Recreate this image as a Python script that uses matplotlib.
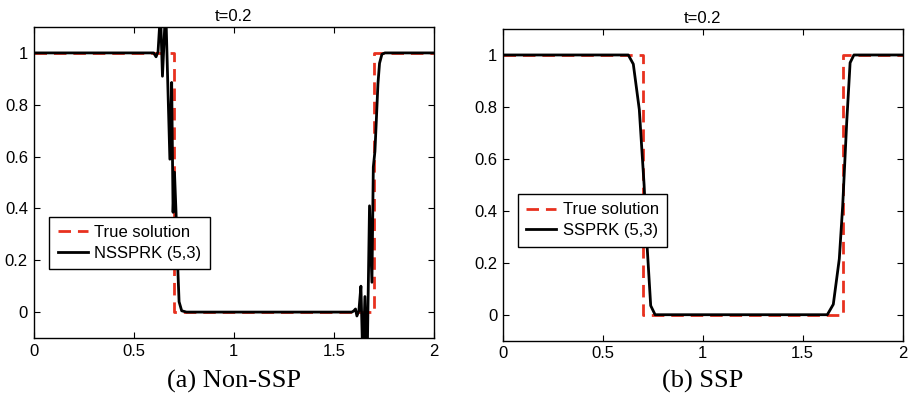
import matplotlib
matplotlib.use("Agg")
import matplotlib.pyplot as plt

plt.rcParams['font.family'] = ['Liberation Sans', 'DejaVu Sans']

# True solution (square wave)
true_x = [0.0, 0.7, 0.7, 1.7, 1.7, 2.0]
true_y = [1.0, 1.0, 0.0, 0.0, 1.0, 1.0]

# Non-SSP solution NSSPRK (5,3)
nssp_x = [0.0, 0.600, 0.612, 0.622, 0.634, 0.644, 0.660, 0.681, 0.690, 0.697,
          0.704, 0.712, 0.720, 0.727, 0.740, 0.764,
          1.590, 1.600, 1.608, 1.615, 1.625, 1.635, 1.645, 1.655, 1.665,
          1.678, 1.690, 1.697, 1.705, 1.712, 1.720, 1.728, 1.740, 1.755, 2.0]
nssp_y = [1.0, 1.000, 0.985, 1.005, 1.160, 0.910, 1.180, 0.590, 0.886, 0.385,
          0.540, 0.380, 0.180, 0.040, 0.005, 0.0,
          0.0, 0.005, 0.012, -0.015, 0.005, 0.100, -0.200, 0.060, -0.250,
          0.410, 0.115, 0.560, 0.620, 0.740, 0.880, 0.960, 0.995, 1.0, 1.0]

# SSP solution SSPRK (5,3)
ssp_x = [0.0, 0.628, 0.653, 0.683, 0.707, 0.720, 0.740, 0.762,
         1.623, 1.653, 1.683, 1.700, 1.720, 1.737, 1.756, 2.0]
ssp_y = [1.0, 1.000, 0.965, 0.790, 0.500, 0.290, 0.035, 0.0,
         0.0, 0.040, 0.215, 0.420, 0.740, 0.970, 1.0, 1.0]

titles = ["t=0.2", "t=0.2"]
captions = ["(a) Non-SSP", "(b) SSP"]
labels = ["NSSPRK (5,3)", "SSPRK (5,3)"]

fig = plt.figure(figsize=(9.08, 4.0), dpi=100)
W, H = 908, 400
boxes = [(33.5, 27, 434, 338), (502.7, 29, 902.7, 340.7)]
leg_pos = [(49.3, 216.7), (518, 194)]
series = [(nssp_x, nssp_y), (ssp_x, ssp_y)]

for i in range(2):
    l, t, r, b = boxes[i]
    ax = fig.add_axes([l / W, 1 - b / H, (r - l) / W, (b - t) / H])
    ax.plot(true_x, true_y, color='#e8311f', lw=2.0, ls=(0, (4.5, 2.5)),
            label='True solution', zorder=2)
    sx, sy = series[i]
    ax.plot(sx, sy, color='black', lw=2.0, label=labels[i], zorder=3)
    ax.set_xlim(0, 2)
    ax.set_ylim(-0.1, 1.1)
    ax.set_xticks([0, 0.5, 1, 1.5, 2])
    ax.set_xticklabels(['0', '0.5', '1', '1.5', '2'])
    ax.set_yticks([0, 0.2, 0.4, 0.6, 0.8, 1])
    ax.set_yticklabels(['0', '0.2', '0.4', '0.6', '0.8', '1'])
    ax.tick_params(direction='in', top=True, right=True, labelsize=12,
                   length=4, width=0.8, pad=4)
    for s in ax.spines.values():
        s.set_linewidth(1.0)
    ax.set_title(titles[i], fontsize=12, pad=4)
    lx, ly = leg_pos[i]
    bx = (lx - l) / (r - l)
    by = (b - ly) / (b - t)
    leg = ax.legend(loc='upper left', bbox_to_anchor=(bx, by), fontsize=12,
                    frameon=True, fancybox=False, edgecolor='black',
                    borderaxespad=0, handlelength=1.8, handletextpad=0.4,
                    borderpad=0.5, labelspacing=0.35)
    leg.get_frame().set_linewidth(1.0)
    leg.get_frame().set_alpha(1)
    fig.text(((l + r) / 2) / W, 1 - 381 / H, captions[i],
             ha='center', va='center', fontsize=19,
             family=['Liberation Serif', 'DejaVu Serif'])

fig.savefig('out.png', dpi=100)
